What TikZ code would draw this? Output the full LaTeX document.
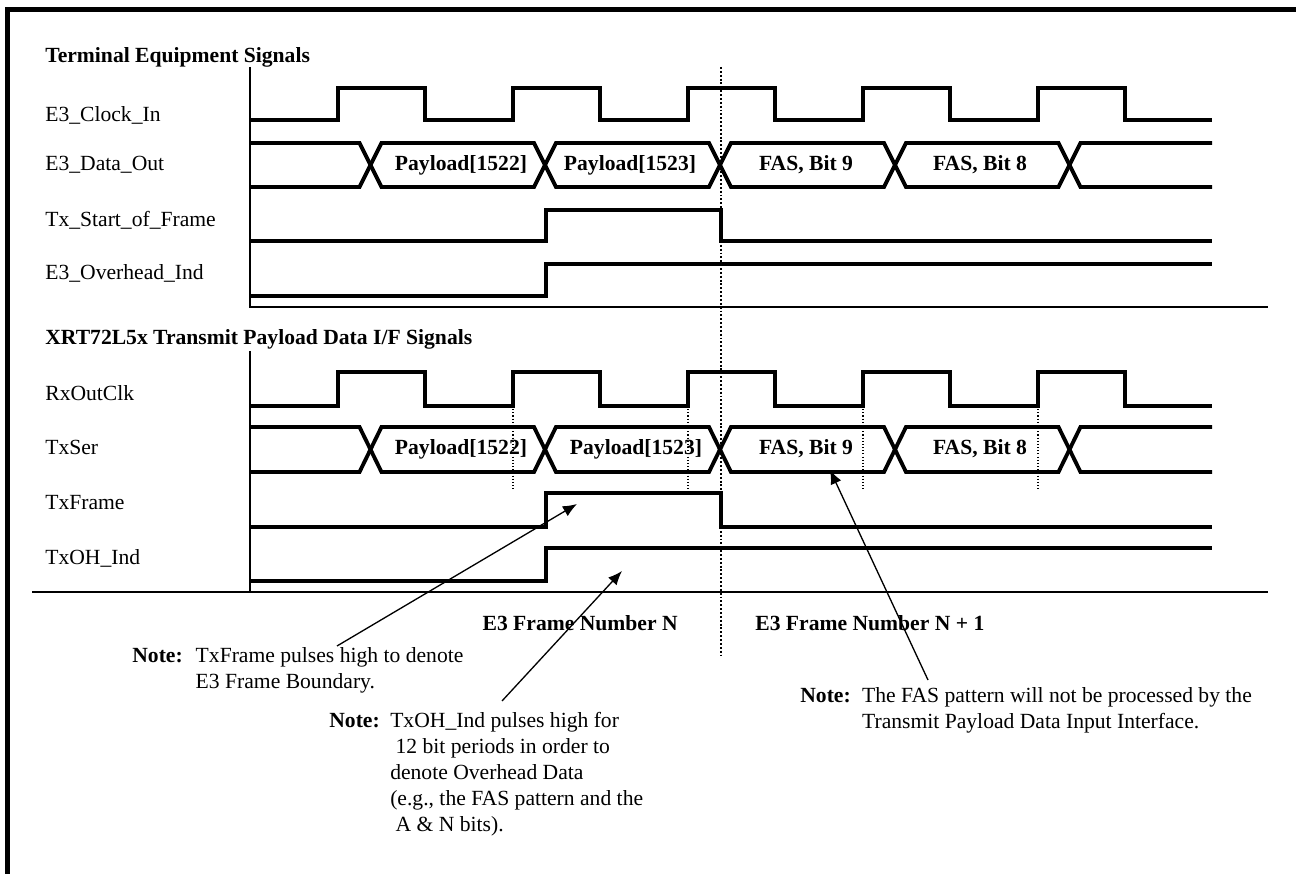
\documentclass[tikz,border=0pt]{standalone}
\usepackage{fontspec}
\setmainfont{Liberation Serif}
\usetikzlibrary{arrows.meta}
\newcommand{\diagfont}{\fontsize{12.3}{14.7}\selectfont}

\tikzset{
  wave/.style={line width=2.2pt},
  ruleline/.style={line width=0.8pt},
  guide/.style={line width=1.1pt, dash pattern=on 1.1pt off 1.1pt},
  fineguide/.style={line width=0.6pt, dash pattern=on 0.6pt off 1.2pt},
  callout/.style={line width=0.75pt, -{Latex[length=8pt,width=6.5pt]}},
  siglabel/.style={anchor=base west, inner sep=0pt, font=\diagfont},
  buslabel/.style={anchor=base, inner sep=0pt, font=\diagfont\bfseries},
  heading/.style={anchor=base west, inner sep=0pt, font=\diagfont\bfseries},
  notetext/.style={anchor=base west, inner sep=0pt, font=\diagfont},
}

\begin{document}
\begin{tikzpicture}[x=0.02cm,y=-0.02cm]
			\useasboundingbox (0,0) rectangle (1296,874);
			\draw[line width=2.8pt] (7.5,874) -- (7.5,9.5) -- (1296,9.5);
			
			% terminal equipment side
			\node[heading] (ttlterm) at (45,62.5) {Terminal Equipment Signals};
			\node[siglabel] (lblclkin) at (45,122) {E3\_Clock\_In};
			\node[siglabel] (lbldataout) at (45,171) {E3\_Data\_Out};
			\node[siglabel] (lblsof) at (45,226.5) {Tx\_Start\_of\_Frame};
			\node[siglabel] (lblohind) at (45,280) {E3\_Overhead\_Ind};
			
			\draw[ruleline] (250,67) -- (250,307) -- (1268,307);
			
			\draw[wave] (250,120) -| (338,88) -| (425,120) -| (513,88) -| (600,120) -| (688,88) -| (775,120)
			  -| (863,88) -| (950,120) -| (1038,88) -| (1125,120) -- (1212,120);
			
			\draw[wave] (250,143) -- (359.5,143) -- (381.5,187) -- (534,187) -- (556,143) -- (709,143) -- (731,187)
			  -- (884,187) -- (906,143) -- (1058.5,143) -- (1080.5,187) -- (1212,187);
			\draw[wave] (250,187) -- (359.5,187) -- (381.5,143) -- (534,143) -- (556,187) -- (709,187) -- (731,143)
			  -- (884,143) -- (906,187) -- (1058.5,187) -- (1080.5,143) -- (1212,143);
			\node[buslabel] (dtermA) at (461,171) {Payload[1522]};
			\node[buslabel] (dtermB) at (630,171) {Payload[1523]};
			\node[buslabel] (dtermC) at (806,171) {FAS, Bit 9};
			\node[buslabel] (dtermD) at (980,171) {FAS, Bit 8};
			
			\draw[wave] (250,241) -| (546,210) -| (721,241) -- (1212,241);
			\draw[wave] (250,296) -| (546,264) -- (1212,264);
			
			% XRT72L5x side
			\node[heading] (ttlxrt) at (45,345) {XRT72L5x Transmit Payload Data I/F Signals};
			\node[siglabel] (lblrxclk) at (45,401) {RxOutClk};
			\node[siglabel] (lbltxser) at (45,455) {TxSer};
			\node[siglabel] (lbltxframe) at (45,510) {TxFrame};
			\node[siglabel] (lbltxoh) at (45,565) {TxOH\_Ind};
			
			\draw[ruleline] (250,351) -- (250,592);
			\draw[ruleline] (32,592) -- (1268,592);
			
			\draw[wave] (250,406) -| (338,372) -| (425,406) -| (513,372) -| (600,406) -| (688,372) -| (775,406)
			  -| (863,372) -| (950,406) -| (1038,372) -| (1125,406) -- (1212,406);
			
			\draw[wave] (250,427) -- (359.5,427) -- (381.5,472) -- (534,472) -- (556,427) -- (709,427) -- (731,472)
			  -- (884,472) -- (906,427) -- (1058.5,427) -- (1080.5,472) -- (1212,472);
			\draw[wave] (250,472) -- (359.5,472) -- (381.5,427) -- (534,427) -- (556,472) -- (709,472) -- (731,427)
			  -- (884,427) -- (906,472) -- (1058.5,472) -- (1080.5,427) -- (1212,427);
			\node[buslabel] (dxrtA) at (461,455) {Payload[1522]};
			\node[buslabel] (dxrtB) at (636,455) {Payload[1523]};
			\node[buslabel] (dxrtC) at (806,455) {FAS, Bit 9};
			\node[buslabel] (dxrtD) at (980,455) {FAS, Bit 8};
			
			\draw[wave] (250,527) -| (546,493) -| (721,527) -- (1212,527);
			\draw[wave] (250,581) -| (546,548) -- (1212,548);
			
			% sampling marks and frame boundary
			\draw[fineguide] (513,406) -- (513,490);
			\draw[fineguide] (688,406) -- (688,490);
			\draw[fineguide] (863,406) -- (863,490);
			\draw[fineguide] (1038,406) -- (1038,490);
			\draw[guide] (721,67) -- (721,656);
			
			\node[heading, anchor=base east] (frmN) at (678,631) {E3 Frame Number N};
			\node[heading] (frmNext) at (755,631) {E3 Frame Number N + 1};
			
			% notes
			\node[notetext] (notefrm) at (132,663) {\begin{tabular}[t]{@{}l@{\hspace{7.4pt}}l@{}}
			  \textbf{Note:} & TxFrame pulses high to denote\\
			  & E3 Frame Boundary.
			\end{tabular}};
			\node[notetext] (noteoh) at (329,728) {\begin{tabular}[t]{@{}l@{\hspace{6pt}}l@{}}
			  \textbf{Note:} & TxOH\_Ind pulses high for\\
			  & \ 12 bit periods in order to\\
			  & denote Overhead Data\\
			  & (e.g., the FAS pattern and the\\
			  & \ A \& N bits).
			\end{tabular}};
			\node[notetext] (notefas) at (800,703) {\begin{tabular}[t]{@{}l@{\hspace{6.5pt}}l@{}}
			  \textbf{Note:} & The FAS pattern will not be processed by the\\
			  & Transmit Payload Data Input Interface.
			\end{tabular}};
			
			\coordinate (tailfrm) at (337,646);
			\coordinate (tipfrm) at (577,504);
			\coordinate (tailoh) at (502,701);
			\coordinate (tipoh) at (622,571);
			\coordinate (tailfas) at (928,680);
			\coordinate (tipfas) at (830,470);
			\draw[callout] (tailfrm) -- (tipfrm);
			\draw[callout] (tailoh) -- (tipoh);
			\draw[callout] (tailfas) -- (tipfas);
			
		\end{tikzpicture}
\end{document}
